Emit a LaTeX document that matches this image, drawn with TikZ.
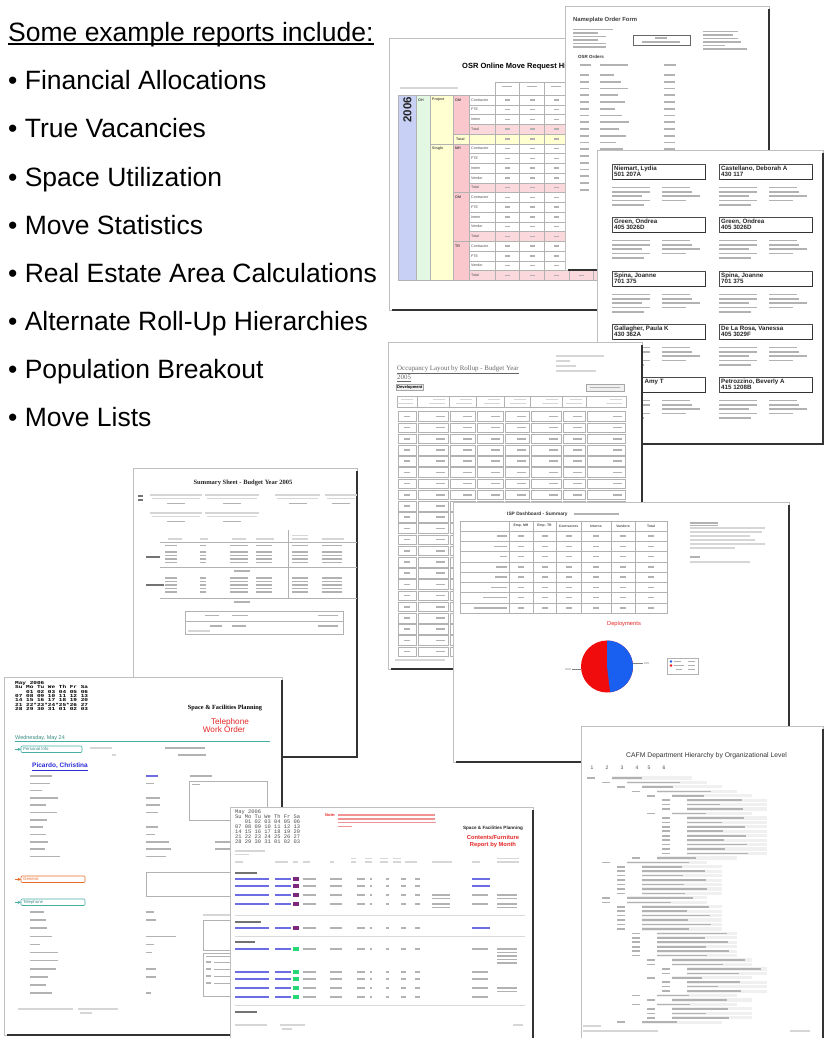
\documentclass[tikz,border=0pt]{standalone}
\usepackage{fontspec}
\setmainfont{Liberation Sans}
\newfontfamily\reportserif{Liberation Serif}
\newfontfamily\reportmono{Liberation Mono}
\usetikzlibrary{positioning,arrows,calc,math}

\definecolor{osrblue}{RGB}{200,208,245}
\definecolor{osrgreen}{RGB}{226,248,226}
\definecolor{osryellow}{RGB}{255,255,210}
\definecolor{osrpink}{RGB}{250,200,204}
\definecolor{tealline}{RGB}{70,175,165}
\definecolor{linkblue}{RGB}{45,45,215}
\definecolor{reportred}{RGB}{228,40,40}
\definecolor{pieblue}{RGB}{25,95,240}
\definecolor{piered}{RGB}{240,12,12}
\definecolor{tagpurple}{RGB}{125,40,125}
\definecolor{taggreen}{RGB}{40,215,120}
\definecolor{generalorange}{RGB}{232,110,40}

\tikzset{
    page/.style={draw=gray!50, line width=0.5pt, fill=white, anchor=north west,
        inner sep=0pt, outer sep=0pt},
    pageshadow/.style={draw=black!80, line width=1.5pt},
    textbar/.style={fill=gray!60},
    paletext/.style={fill=gray!32},
    boldbar/.style={fill=black!55},
    linktext/.style={fill=linkblue!70},
    redtext/.style={fill=reportred!50},
    cell/.style={draw=gray!60, line width=0.3pt},
    bullet/.style={font=\fontsize{26.5}{30}\selectfont, anchor=base west, inner sep=0pt},
    rtitle/.style={font=\bfseries\fontsize{7.5}{8}\selectfont, inner sep=0pt, anchor=west},
    tinytext/.style={font=\fontsize{3.6}{4}\selectfont, inner sep=0pt, text=black!70, anchor=west},
    labelname/.style={font=\bfseries\fontsize{6.2}{6.5}\selectfont, inner sep=0pt,
        text=black!85, anchor=west},
    calendar/.style={font=\reportmono\bfseries\fontsize{4.6}{5}\selectfont, inner sep=0pt,
        anchor=west},
    occtitle/.style={font=\reportserif\fontsize{6.9}{7}\selectfont, text=black!60,
        inner sep=0pt, anchor=west},
    sectionlabel/.style={font=\fontsize{4.3}{4.5}\selectfont, inner sep=0pt, anchor=west},
}

% a grey stand-in for a line of small print: x, y (middle), width
\newcommand{\txtbar}[4][textbar]{\fill[#1] (#2,#3-0.8) rectangle (#2+#4,#3+0.8);}
% a report page with its shadow: name, left, top, right, bottom
\newcommand{\reportpage}[5]{%
  \node[page, minimum width={(#4-#2)*1pt}, minimum height={(#5-#3)*1pt}] (#1) at (#2,#3) {};
  \draw[pageshadow] ([yshift=-3pt]#1.north east) -- (#1.south east) -- ([xshift=3pt]#1.south west);
}

\begin{document}
\begin{tikzpicture}[x=1pt, y=-1pt, >=stealth]

  \useasboundingbox[fill=white] (0,0) rectangle (824,1038);

  % -------------------
  % Heading and bullets
  % -------------------
  \node[bullet] (heading) at (8,42) {Some example reports include:};
  \draw[line width=1.2pt] ([yshift=-2pt]heading.base west) -- ([yshift=-2pt]heading.base east);

  \foreach \report [count=\i] in {Financial Allocations, True Vacancies, Space Utilization,
      Move Statistics, Real Estate Area Calculations, Alternate Roll-Up Hierarchies,
      Population Breakout, Move Lists}
    \node[bullet] (item\i) at (8,42+48*\i) {\textbullet\ \report};

  % ----------------
  % OSR history page
  % ----------------
  \reportpage{osr}{389}{38}{655}{310}
  \node[rtitle] (osrtitle) at (462,67) {OSR Online Move Request History};
  \txtbar[paletext]{400}{88}{58}

  % coloured group columns
  \fill[osrblue]   (398,95) rectangle (416,280);
  \fill[osrgreen]  (416,95) rectangle (430,280);
  \fill[osryellow] (430,95) rectangle (453,280);
  \fill[osrpink]   (453,95) rectangle (469,280);
  \fill[osryellow] (453,134) rectangle (655,143.75);
  \foreach \r in {3,9,14,18}
    \fill[osrpink!70] (469,95+9.75*\r) rectangle (655,104.75+9.75*\r);

  % grid
  \foreach \r in {0,...,19}
    \draw[cell] (469,95+9.75*\r) -- (655,95+9.75*\r);
  \foreach \r in {4,5,10,15}
    \draw[cell] (453,95+9.75*\r) -- (469,95+9.75*\r);
  \draw[cell] (430,143.75) -- (453,143.75);
  \draw[cell] (398,95) -- (469,95) (398,280) -- (469,280);
  \foreach \x in {398,416,430,453,469}
    \draw[cell] (\x,95) -- (\x,280);
  \foreach \c in {0,...,6} {
    \draw[cell] (495+24.6*\c,82) rectangle (519.6+24.6*\c,280);
    \txtbar{502+24.6*\c}{86.5}{10}
  }

  % texts and values
  \node[rotate=90, anchor=east, inner sep=0pt, text=black!85,
    font=\bfseries\fontsize{11.5}{12}\selectfont] (osryear) at (407.5,97) {2006};
  \foreach \lab/\x/\r in {OH/418/0, Project/432/0, Single/432/5, OM/455/0, MH/455/5, OM/455/10, TR/455/15, Total/456/4}
    \node[tinytext, font=\bfseries\fontsize{3.6}{4}\selectfont] (osrgroup\x-\r) at (\x,99.9+9.75*\r) {\lab};
  \foreach \r/\lab in {0/Contractor,1/FTE,2/Intern,3/Total,5/Contractor,6/FTE,7/Intern,8/Vendor,9/Total,
      10/Contractor,11/FTE,12/Intern,13/Vendor,14/Total,15/Contractor,16/FTE,17/Vendor,18/Total}
    \node[tinytext] (osrrow\r) at (471,99.9+9.75*\r) {\lab};
  \foreach \r in {0,...,18} {
    \foreach \c in {0,...,6} {
      \txtbar{505+24.6*\c}{99.9+9.75*\r}{5}
    }
  }

  % -------------------
  % Nameplate order form
  % -------------------
  \reportpage{nameplate}{565}{6}{769}{270}
  \node[rtitle, font=\bfseries\fontsize{5.9}{6}\selectfont, text=black!75] (nptitle) at (573,20) {Nameplate Order Form};
  \foreach \w [count=\k] in {40,25,33,25,33,33} {
    \txtbar{573}{26+3.5*\k}{\w}
  }
  \draw[draw=black!60, line width=0.4pt] (633,35) rectangle (690,45);
  \txtbar{655}{38.2}{12}
  \txtbar{642}{41.8}{38}
  \foreach \w [count=\k] in {35,30,35,38,22,44} {
    \txtbar{703}{28+3.5*\k}{\w}
  }
  \node[tinytext, font=\bfseries\fontsize{4.5}{5}\selectfont, text=black!80] (nporders) at (578,57) {OSR Orders};
  \txtbar{580}{65}{11} \txtbar{600}{65}{28} \txtbar{664}{65}{12}
  \foreach \k in {0,...,17} {
    \pgfmathsetmacro{\w}{14+mod(\k*7,17)}
    \txtbar{580}{75+6.75*\k}{9}
    \txtbar{600}{75+6.75*\k}{\w}
    \txtbar{664}{75+6.75*\k}{11}
  }

  % -----------
  % Name labels
  % -----------
  \reportpage{labels}{597}{150}{823}{444}
  \foreach \lx/\ly/\who/\room [count=\k] in {
      612/164/{Niemart, Lydia}/501 207A,
      719/164/{Castellano, Deborah A}/430 117,
      612/217/{Green, Ondrea}/405 3026D,
      719/217/{Green, Ondrea}/405 3026D,
      612/271/{Spina, Joanne}/701 375,
      719/271/{Spina, Joanne}/701 375,
      612/324/{Gallagher, Paula K}/430 362A,
      719/324/{De La Rosa, Vanessa}/405 3029F,
      612/377/{}/{},
      719/377/{Petrozzino, Beverly A}/415 1208B} {
    \draw[fill=white, draw=black!70, line width=0.4pt] (\lx,\ly) rectangle (\lx+93,\ly+15);
    \draw[black!80, line width=1.2pt] (\lx+93.6,\ly+2) -- (\lx+93.6,\ly+15.6) -- (\lx+2,\ly+15.6);
    \node[labelname] (label\k) at (\lx+2,\ly+4.6) {\who};
    \node[labelname] (room\k) at (\lx+2,\ly+10.6) {\room};
    \foreach \w [count=\j] in {38,38,30,38,32} {
      \txtbar{\lx}{\ly+19+4.4*\j}{\w}
    }
    \foreach \w [count=\j] in {28,30,38,24} {
      \txtbar{\lx+50}{\ly+19+4.4*\j}{\w}
    }
  }
  \node[labelname] (labelamy) at (641,381.6) {, Amy T};

  % -----------------------------
  % Occupancy layout by rollup
  % -----------------------------
  \reportpage{occupancy}{388}{342}{642}{669}
  \node[occtitle] (occtitle) at (397,370) {\underline{Occupancy Layout by Rollup - Budget Year}};
  \node[occtitle] (occyear) at (397,378) {\underline{2005}};
  \foreach \w [count=\k] in {48,14,20,40} {
    \txtbar[paletext]{556}{351+5*\k}{\w}
  }
  \node[draw=gray!70, fill=gray!12, font=\bfseries\fontsize{4}{4}\selectfont, inner sep=1pt,
    anchor=west] (occdev) at (396,387.5) {Development};
  \draw[draw=gray!70, fill=gray!12] (586,384) rectangle (624,391);
  \txtbar{590}{387.5}{30}
  \foreach \a/\b [count=\c] in {397/417,417/449,449/476,476/504,504/530,530/562,562/586,586/626} {
    \draw[cell] (\a,396) rectangle (\b,407);
    \txtbar[paletext]{\b-16}{399.5}{12}
    \txtbar[paletext]{\b-20}{403.5}{16}
    \foreach \r in {0,...,21} {
      \draw[cell] (\a+0.7,411.6+11.2*\r) rectangle (\b-0.7,421.2+11.2*\r);
      \ifnum\c=1
        \txtbar{404}{416.4+11.2*\r}{6}
      \else
        \txtbar{\b-13}{416.4+11.2*\r}{9}
      \fi
    }
  }
  \txtbar[paletext]{395}{660}{50}

  % ---------------------
  % ISP dashboard summary
  % ---------------------
  \reportpage{isp}{453}{502}{789}{762}
  \node[rtitle, font=\bfseries\fontsize{4.8}{5}\selectfont, text=black!80] (isptitle) at (507,514) {ISP Dashboard - Summary};
  \txtbar{574}{514}{45}
  \foreach \a/\b in {460/509,509/533,533/556,556/581,581/611,611/635,635/667} {
    \draw[cell] (\a,521) rectangle (\b,531);
    \foreach \r in {0,...,7}
      \draw[cell] (\a,531+10.25*\r) rectangle (\b,541.25+10.25*\r);
  }
  \foreach \lab/\mx [count=\c] in {Emp. MH/521, Emp. TR/544.5, Contractors/568.5, Interns/596, Vendors/623, Total/651} {
    \node[tinytext, anchor=center, font=\bfseries\fontsize{3.4}{4}\selectfont] (isphead\c) at (\mx,526) {\lab};
    \foreach \r in {0,...,7} {
      \txtbar{\mx-3}{536.1+10.25*\r}{6}
    }
  }
  \foreach \w [count=\r from 0] in {10,13,7,11,12,16,24,33} {
    \txtbar{507-\w}{536.1+10.25*\r}{\w}
  }

  % notes on the right
  \txtbar{690}{523}{28}
  \draw[gray!60, line width=0.3pt] (690,525) -- (718,525);
  \foreach \w [count=\k] in {75,72,60,65,75,45} {
    \txtbar[paletext]{690}{524+4*\k}{\w}
  }
  \txtbar{690}{557}{10}
  \txtbar[paletext]{690}{562}{60}

  % pie chart
  \node[font=\fontsize{5.8}{6}\selectfont, text=reportred, inner sep=0pt] (ispdeploy) at (624,624) {Deployments};
  \coordinate (pie) at (607,666.5);
  \fill[piered] (pie) circle (26);
  \fill[pieblue] (pie) -- ++(83:26) arc[start angle=83, end angle=-90, radius=26] -- cycle;
  \coordinate (pieleft) at (572,669);
  \coordinate (pieright) at (643,663);
  \draw[gray, line width=0.3pt] (pieleft) -- ++(9,0);
  \draw[gray, line width=0.3pt] (pieright) -- ++(-10,0);
  \txtbar[paletext]{565}{669}{6}
  \txtbar[paletext]{644}{663}{5}
  \draw[cell] (667,658) rectangle (698,674);
  \fill[pieblue] (671,661.5) circle (1.4);
  \fill[piered] (671,665.5) circle (1.4);
  \txtbar{674}{661.5}{7} \txtbar{674}{665.5}{10} \txtbar{676}{669.5}{6}
  \foreach \k in {0,1,2} {
    \txtbar{688}{661.5+4*\k}{7}
  }

  % ----------------------------
  % CAFM department hierarchy
  % ----------------------------
  \reportpage{cafm}{581}{726}{823}{1045}
  \node[font=\fontsize{6.8}{7}\selectfont, text=black!80, inner sep=0pt] (cafmtitle) at (706.5,756)
    {CAFM Department Hierarchy by Organizational Level};
  \foreach \n/\x in {1/592,2/607,3/622,4/637,5/649,6/664}
    \node[font=\fontsize{5}{5}\selectfont, text=black!70, inner sep=0pt] (level\n) at (\x,768) {\n};
  \foreach \lvl [count=\k from 0] in {1,2,3,4,5,6,6,6,5,6,6,6,6,6,6,6,6,6,4,2,3,3,3,3,3,3,3,2,2,
      3,3,3,3,3,3,4,4,4,4,4,4,5,5,6,6,5,6,6,6,4,5,4,5,5,5,3} {
    \pgfmathsetmacro{\cx}{587+15*(\lvl-1)}
    \pgfmathsetmacro{\w}{30+mod(\k*23,45)}
    \fill[gray!12] (\cx+25,776.4+4.44*\k) rectangle (\cx+105,779.6+4.44*\k);
    \txtbar{\cx}{778+4.44*\k}{8}
    \txtbar{\cx+25}{778+4.44*\k}{\w}
  }
  \txtbar[paletext]{583}{1026}{18}
  \txtbar[paletext]{583}{1031}{75}
  \txtbar[paletext]{790}{1031}{20}

  % --------------------
  % Summary sheet budget
  % --------------------
  \reportpage{summary}{133}{468}{357}{757}
  \node[font=\reportserif\bfseries\fontsize{6.5}{7}\selectfont, text=black!85, inner sep=0pt] (sumtitle) at (243,483)
    {Summary Sheet - Budget Year 2005};
  \txtbar[boldbar]{138}{496}{5}
  \txtbar[boldbar]{138}{500}{5}
  \foreach \x/\w in {150/52,205/54,275/45,325/32} {
    \txtbar[paletext]{\x}{495}{\w}
    \txtbar[paletext]{\x+2}{498.5}{\w-4}
    \txtbar{\x+\w/2-9}{503.5}{18}
  }
  \foreach \x/\w in {150/52,205/54} {
    \txtbar[paletext]{\x}{513}{\w}
    \txtbar[paletext]{\x+2}{516.5}{\w-4}
    \txtbar{\x+\w/2-9}{521.5}{18}
  }
  \txtbar[paletext]{292}{535.5}{16}
  \foreach \x/\w in {168/14,200/8,232/14,256/18,292/16,322/22} {
    \txtbar[paletext]{\x}{539}{\w}
  }
  \foreach \y in {542,567,598}
    \draw[gray!60, line width=0.3pt] (160,\y) -- (357,\y);
  \draw[gray!60, line width=0.3pt] (288,530) -- (288,598);
  \foreach \y in {545.5,552,555.5,559,562.5,578,581.5,585,588.5,592} {
    \txtbar{165}{\y}{12}
    \txtbar{200}{\y}{6}
    \txtbar{230}{\y}{18}
    \txtbar{256}{\y}{16}
    \txtbar{292}{\y}{16}
    \txtbar{322}{\y}{20}
  }
  \txtbar[boldbar]{146}{557}{14}
  \txtbar[boldbar]{146}{585}{18}
  \txtbar{234}{571}{16}
  \txtbar{234}{602}{16}
  \draw[gray!60, line width=0.4pt] (185,611) rectangle (343,634);
  \draw[gray!60, line width=0.3pt] (185,621) -- (343,621);
  \txtbar{205}{615.5}{14} \txtbar{232}{615.5}{16} \txtbar{318}{615.5}{20}
  \txtbar{210}{626}{12} \txtbar{232}{626}{14} \txtbar{318}{626}{20}
  \txtbar[paletext]{188}{631}{22}

  % ---------------------------
  % Telephone work order page
  % ---------------------------
  \reportpage{phone}{4}{677}{282}{1035}
  \foreach \row [count=\k from 0] in {May 2006, Su Mo Tu We Th Fr Sa, \hphantom{00} 01 02 03 04 05 06,
      07 08 09 10 11 12 13, 14 15 16 17 18 19 20, 21 22*23*24*25*26 27, 28 29 30 31 01 02 03}
    \node[calendar] (phonecal\k) at (15,683+4.3*\k) {\scalebox{1.32}[1]{\row}};
  \node[font=\reportserif\bfseries\fontsize{6.3}{7}\selectfont, inner sep=0pt] (phoneorg) at (225,708)
    {Space \& Facilities Planning};
  \node[font=\fontsize{8.2}{9}\selectfont, text=reportred, inner sep=0pt, anchor=base] (phonetitle) at (230,724.3) {Telephone};
  \node[font=\fontsize{8.2}{9}\selectfont, text=reportred, inner sep=0pt, anchor=base] (phonework) at (224,732.6) {Work Order};
  \node[font=\fontsize{5.5}{6}\selectfont, text=tealline!80!black, inner sep=0pt, anchor=west] (phoneday) at (15,738.3)
    {Wednesday, May 24};
  \draw[tealline, line width=0.9pt] (15,741.8) -- (270,741.8);

  % personal info
  \draw[tealline, rounded corners=1pt, line width=0.6pt] (21,746) rectangle (82,752.5);
  \node[sectionlabel, text=tealline!80!black] (phonepersonal) at (23,749.3) {Personal Info};
  \coordinate (personalmark) at (15,749.3);
  \draw[->, tealline, line width=0.5pt] (personalmark) -- ++(6,0);
  \txtbar[paletext]{90}{748}{22}  \txtbar{165}{748}{40}
  \txtbar[paletext]{112}{755}{4}  \txtbar{178}{755}{28}
  \node[font=\bfseries\fontsize{6.5}{7}\selectfont, text=linkblue, inner sep=0pt, anchor=west] (phonename) at (32,767)
    {\underline{Picardo, Christina}};
  \foreach \lw/\vw [count=\k from 0] in {22/0,20/8,12/0,28/14,16/14,27/12,17/0,13/12,16/9,18/23,15/25,30/20} {
    \txtbar{30}{776+7.3*\k}{\lw}
    \txtbar{146}{776+7.3*\k}{\vw}
  }
  \txtbar[linktext]{146}{776}{12}
  \txtbar{215}{841.7}{15}
  \txtbar{215}{849}{15}
  \txtbar{190}{776}{22}
  \draw[cell] (189,781) rectangle (267,820);
  \txtbar{192}{784.5}{8}

  % general
  \draw[generalorange, rounded corners=1pt, line width=0.6pt] (21,876) rectangle (85,882.5);
  \node[sectionlabel, text=generalorange] (phonegeneral) at (23,879.3) {General};
  \coordinate (generalmark) at (15,879.3);
  \draw[->, generalorange, line width=0.5pt] (generalmark) -- ++(6,0);
  \draw[cell] (146,872) rectangle (282,896);

  % telephone
  \draw[tealline, rounded corners=1pt, line width=0.6pt] (21,899) rectangle (85,905.5);
  \node[sectionlabel, text=tealline!80!black] (phonetele) at (23,902.3) {Telephone};
  \coordinate (telemark) at (15,902.3);
  \draw[->, tealline, line width=0.5pt] (telemark) -- ++(6,0);
  \foreach \lw/\vw [count=\k from 0] in {14/8,16/10,17/0,22/30,10/8,28/6,28/0,26/10,18/10,16/0,22/5} {
    \txtbar{30}{912+8.1*\k}{\lw}
    \txtbar{146}{912+8.1*\k}{\vw}
  }
  \txtbar[paletext]{203}{915}{30}
  \draw[cell] (203,920) rectangle (282,950);
  \draw[cell] (203,953) rectangle (282,996);
  \txtbar{206}{956.5}{24}
  \foreach \k in {0,...,3} {
    \txtbar{206}{962+7*\k}{5}
    \draw[gray!60, line width=0.3pt] (214,962+7*\k) -- (232,962+7*\k);
  }
  \txtbar[paletext]{18}{1009}{55}
  \txtbar[paletext]{78}{1009}{40}
  \txtbar[paletext]{80}{1013}{12}

  % -----------------------------
  % Contents / furniture by month
  % -----------------------------
  \reportpage{furniture}{230}{807}{533}{1040}
  \foreach \row [count=\k from 0] in {May 2006, Su Mo Tu We Th Fr Sa, \hphantom{00} 01 02 03 04 05 06,
      07 08 09 10 11 12 13, 14 15 16 17 18 19 20, 21 22 23 24 25 26 27, 28 29 30 31 01 02 03}
    \node[calendar, font=\reportmono\fontsize{5.4}{6}\selectfont, text=black!70] (furncal\k) at (235,812+5*\k) {\row};
  \node[font=\bfseries\fontsize{4}{4}\selectfont, text=reportred, inner sep=0pt, anchor=west] (furnnote) at (325,815) {Note:};
  \foreach \w [count=\k from 0] in {97,97,98,14} {
    \txtbar[redtext]{338}{815+3.8*\k}{\w}
  }
  \node[font=\bfseries\fontsize{4.6}{5}\selectfont, text=black!85, inner sep=0pt] (furnorg) at (493,828)
    {Space \& Facilities Planning};
  \node[font=\bfseries\fontsize{5.8}{6}\selectfont, text=reportred, inner sep=0pt] (furntitle) at (493,837) {Contents/Furniture};
  \node[font=\bfseries\fontsize{5.8}{6}\selectfont, text=reportred, inner sep=0pt] (furnmonth) at (493,844.5) {Report by Month};
  \txtbar[paletext]{235}{851}{30}
  \txtbar[paletext]{235}{854.5}{14}
  \foreach \x/\w in {235/8,275/13,293/5,303/7,330/4,351/5,365/7,380/8,393/8,405/12,432/20,472/8,497/22} {
    \txtbar[paletext]{\x}{862}{\w}
  }
  \foreach \x/\w in {351/5,365/7,380/8,393/8,497/22} {
    \txtbar[paletext]{\x}{858.5}{\w}
  }

  % day groups and rows
  \foreach \y/\w in {873/22,922/26,942/20,1012/22} {
    \txtbar[boldbar]{235}{\y}{\w}
  }
  \foreach \y in {915,936,1005}
    \draw[gray!30, line width=0.4pt] (235,\y) -- (525,\y);
  \foreach \y/\tag/\done in {879/tagpurple/0, 886/tagpurple/0, 895/tagpurple/1, 904/tagpurple/1,
      928/tagpurple/0, 949/taggreen/1, 972/taggreen/1, 979/taggreen/1, 988/taggreen/1, 997/taggreen/1} {
    \txtbar[linktext]{235}{\y}{34}
    \txtbar[linktext]{275}{\y}{16}
    \fill[\tag] (293,\y-1.6) rectangle (299,\y+1.6);
    \txtbar{303}{\y}{13} \txtbar{330}{\y}{12} \txtbar{357}{\y}{8} \txtbar{370}{\y}{2}
    \txtbar{386}{\y}{3} \txtbar{401}{\y}{5} \txtbar{415}{\y}{5}
    \ifnum\done=1
      \txtbar{472}{\y}{16}
    \else
      \txtbar[linktext]{472}{\y}{18}
    \fi
  }
  \foreach \y in {895,898.5,904,907.5} {
    \txtbar{432}{\y}{18}
  }
  \foreach \y in {895,898.5,904,907.5,949,952.5,956,959.5,963,988,991.5} {
    \txtbar{497}{\y}{20}
  }
  \txtbar[paletext]{235}{1025}{32}
  \txtbar[paletext]{280}{1025}{25}
  \txtbar[paletext]{282}{1029}{10}
  \txtbar[paletext]{513}{1025}{10}

\end{tikzpicture}
\end{document}
